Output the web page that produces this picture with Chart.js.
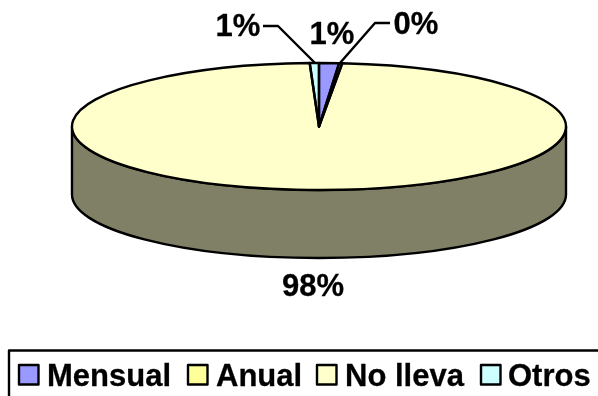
<!DOCTYPE html>
<html>
<head>
<meta charset="utf-8">
<style>
  html, body { margin: 0; padding: 0; background: #fff; overflow: hidden; }
  canvas { display: block; }
</style>
<script src="https://cdn.jsdelivr.net/npm/chart.js@4/dist/chart.umd.min.js"></script>
</head>
<body>
<canvas id="pieChart" width="598" height="396"></canvas>
<script>
const categories = ["Mensual", "Anual", "No lleva", "Otros"];
const shares = [1.3, 0.2, 97.9, 0.6];
const shareLabels = ["1%", "0%", "98%", "1%"];
const colors = ["#9999FF", "#FFFF99", "#FFFFCC", "#CCFFFF"];
const wallColor = "#808066";

const FONT = "bold 31px 'Liberation Sans', Arial, sans-serif";
const SQUASH = 63.5 / 247;
const DEPTH = 68;

function squash(ctx, arc) {
  ctx.translate(arc.x, arc.y);
  ctx.scale(1, SQUASH);
  ctx.translate(-arc.x, -arc.y);
}

const pie3d = {
  id: "pie3d",
  beforeDatasetsDraw(chart) {
    const { ctx } = chart;
    const arc = chart.getDatasetMeta(0).data[0];
    const r = arc.outerRadius;
    ctx.save();
    ctx.beginPath();
    ctx.ellipse(arc.x, arc.y + DEPTH, r, r * SQUASH, 0, Math.PI, 0, true);
    ctx.lineTo(arc.x + r, arc.y);
    ctx.ellipse(arc.x, arc.y, r, r * SQUASH, 0, 0, Math.PI, false);
    ctx.closePath();
    ctx.fillStyle = wallColor;
    ctx.fill();
    ctx.lineWidth = 2.4;
    ctx.strokeStyle = "#000";
    ctx.stroke();
    ctx.restore();
    // flatten the library's round pie into the tilted top
    ctx.save();
    squash(ctx, arc);
  },
  afterDatasetsDraw(chart) {
    const { ctx } = chart;
    ctx.restore();
    ctx.lineWidth = 2.4;
    ctx.strokeStyle = "#000";
    ctx.lineJoin = "round";
    chart.getDatasetMeta(0).data.forEach((arc) => {
      ctx.save();
      squash(ctx, arc);
      ctx.beginPath();
      ctx.moveTo(arc.x, arc.y);
      ctx.arc(arc.x, arc.y, arc.outerRadius, arc.startAngle, arc.endAngle);
      ctx.closePath();
      ctx.restore();
      ctx.stroke();
    });
  },
};

const labelSpots = [
  { x: 332, y: 35 },
  { x: 416, y: 25 },
  { x: 313, y: 287 },
  { x: 238, y: 27 },
];

const leaders = [
  [[263, 26], [278, 26], [315, 63]],
  [[390, 23], [375, 23], [340, 63]],
];

function boldText(ctx, text, x, y) {
  ctx.fillText(text, x, y);
  ctx.strokeText(text, x, y);
}

const pieLabels = {
  id: "pieLabels",
  afterDraw(chart) {
    const { ctx } = chart;
    ctx.save();
    ctx.strokeStyle = "#000";
    ctx.lineWidth = 2.4;
    leaders.forEach((line) => {
      ctx.beginPath();
      line.forEach(([x, y], i) => (i ? ctx.lineTo(x, y) : ctx.moveTo(x, y)));
      ctx.stroke();
    });
    ctx.fillStyle = "#000";
    ctx.lineWidth = 0.3;
    ctx.font = FONT;
    ctx.textAlign = "center";
    ctx.textBaseline = "middle";
    shareLabels.forEach((text, i) => boldText(ctx, text, labelSpots[i].x, labelSpots[i].y));
    ctx.restore();
  },
};

const legendItems = [
  { box: 19, text: 47 },
  { box: 188, text: 216 },
  { box: 317, text: 345 },
  { box: 481, text: 508 },
];

const boxLegend = {
  id: "boxLegend",
  afterDraw(chart) {
    const { ctx } = chart;
    ctx.save();
    ctx.strokeStyle = "#000";
    ctx.lineWidth = 2.4;
    ctx.strokeRect(9, 350.5, 600, 60);
    ctx.font = FONT;
    ctx.textAlign = "left";
    ctx.textBaseline = "alphabetic";
    categories.forEach((name, i) => {
      ctx.fillStyle = colors[i];
      ctx.lineWidth = 2.4;
      ctx.fillRect(legendItems[i].box, 365, 19.5, 19.5);
      ctx.strokeRect(legendItems[i].box, 365, 19.5, 19.5);
      ctx.fillStyle = "#000";
      ctx.lineWidth = 0.3;
      boldText(ctx, name, legendItems[i].text, 386);
    });
    ctx.restore();
  },
};

new Chart(document.getElementById("pieChart"), {
  type: "pie",
  data: {
    labels: categories,
    datasets: [{ data: shares, backgroundColor: colors, borderWidth: 0 }],
  },
  options: {
    responsive: false,
    animation: false,
    radius: 247,
    layout: { padding: { left: 40, right: 0, top: 0, bottom: 143 } },
    plugins: { legend: { display: false }, tooltip: { enabled: false } },
  },
  plugins: [pie3d, pieLabels, boxLegend],
});
</script>
</body>
</html>
